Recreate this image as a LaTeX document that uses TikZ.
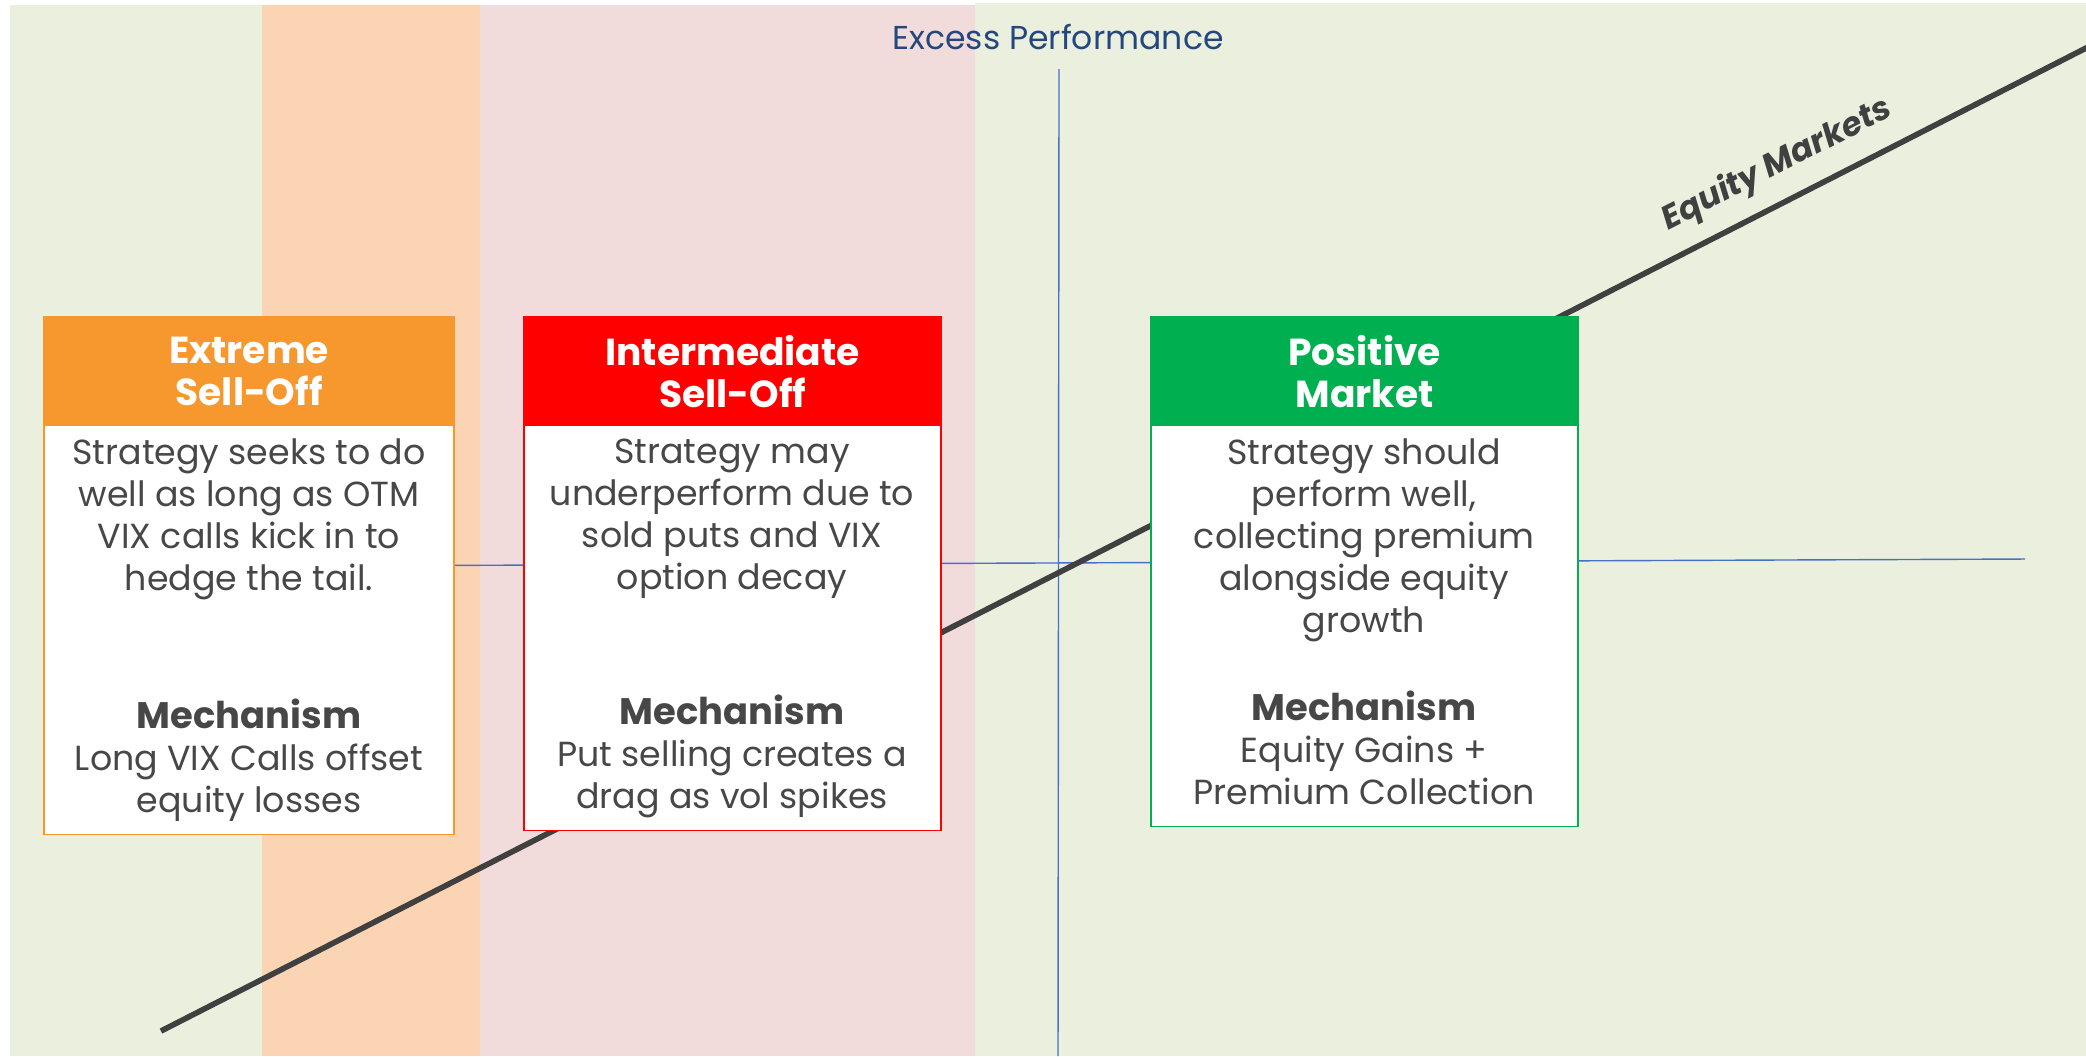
\documentclass[tikz,border=0pt]{standalone}
\usepackage{fontspec}
\setmainfont{Poppins}
\definecolor{bggreen}{HTML}{EBF0DE}
\definecolor{orangeband}{HTML}{FBD4B4}
\definecolor{pinkband}{HTML}{F2DCDB}
\definecolor{orangehdr}{HTML}{F7982F}
\definecolor{redhdr}{HTML}{FF0000}
\definecolor{greenhdr}{HTML}{00B050}
\definecolor{txtgray}{HTML}{474747}
\definecolor{axisblue}{HTML}{4472C4}
\definecolor{excblue}{HTML}{24487E}
\definecolor{eqgray}{HTML}{404040}
\newcommand{\mech}{{\fontsize{10.5pt}{11.95pt}\selectfont\bfseries Mechanism}}
\begin{document}
\begin{tikzpicture}[x=0.01cm,y=-0.01cm,
  card/.style={fill=white, line width=0.45pt, inner sep=0pt, outer sep=0pt, anchor=north west},
  hdr/.style={inner sep=0pt, outer sep=0pt, anchor=north west, text=white, align=center,
    font=\fontsize{10.7pt}{12pt}\selectfont\bfseries},
  bodytxt/.style={inner sep=0pt, anchor=north, text=txtgray, align=center,
    font=\fontsize{9.9pt}{11.95pt}\selectfont},
  axisline/.style={draw=axisblue, line width=0.4pt},
  eqline/.style={draw=eqgray, line width=1.6pt}
]
\useasboundingbox (0,0) rectangle (2086,1056);
\fill[white] (0,0) rectangle (2086,1056);
\fill[bggreen] (10,5) rectangle (262,1056);
\fill[orangeband] (262,5) rectangle (480,1056);
\fill[pinkband] (480,5) rectangle (975,1056);
\fill[bggreen] (975,3) rectangle (2086,1056);

% axes
\coordinate (vT) at (1059,69);
\coordinate (vB) at (1058,1056);
\coordinate (hL) at (300,566);
\coordinate (hR) at (2025,559);
\draw[axisline] (vT) -- (vB);
\draw[axisline] (hL) -- (hR);

% equity line
\coordinate (eqA) at (161,1031);
\coordinate (eqB) at (2090,46);
\draw[eqline] (eqA) -- (eqB);

\node[text=excblue, font=\fontsize{9.4pt}{10pt}\selectfont] (exc) at (1058,37) {Excess Performance};
\node[text=eqgray, rotate=27, font=\fontsize{9.35pt}{10pt}\selectfont\bfseries\itshape] (eql) at (1777,165) {Equity Markets};

% box 1
\node[card, draw=orangehdr, minimum width=4.10cm, minimum height=5.17cm] (box1) at (44,317) {};
\node[hdr, fill=orangehdr, minimum width=4.10cm, minimum height=1.09cm] (h1) at (44,317) {Extreme\\Sell-Off};
\node[bodytxt] (t1) at (249,438) {Strategy seeks to do\\well as long as OTM\\VIX calls kick in to\\hedge the tail.};
\node[bodytxt] (m1) at (249,698) {\mech\\Long VIX Calls offset\\equity losses};

% box 2
\node[card, draw=redhdr, minimum width=4.17cm, minimum height=5.13cm] (box2) at (524,317) {};
\node[hdr, fill=redhdr, minimum width=4.17cm, minimum height=1.09cm] (h2) at (524,317) {Intermediate\\Sell-Off};
\node[bodytxt] (t2) at (732,438) {Strategy may\\underperform due to\\sold puts and VIX\\option decay};
\node[bodytxt] (m2) at (732,694) {\mech\\Put selling creates a\\drag as vol spikes};

% box 3
\node[card, draw=greenhdr, minimum width=4.27cm, minimum height=5.09cm] (box3) at (1151,317) {};
\node[hdr, fill=greenhdr, minimum width=4.27cm, minimum height=1.09cm] (h3) at (1151,317) {Positive\\Market};
\node[bodytxt] (t3) at (1364,438) {Strategy should\\perform well,\\collecting premium\\alongside equity\\growth};
\node[bodytxt] (m3) at (1364,690) {\mech\\Equity Gains +\\Premium Collection};
\end{tikzpicture}
\end{document}
